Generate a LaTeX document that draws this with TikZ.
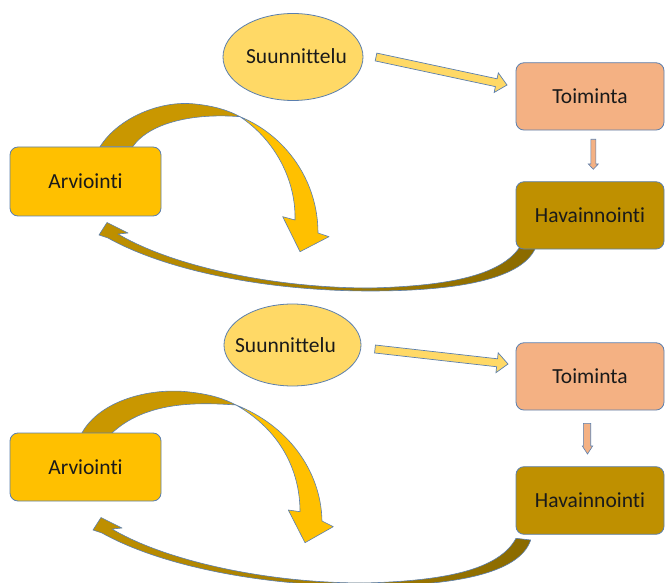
\documentclass[tikz,border=0pt]{standalone}
\usepackage{fontspec}
\setmainfont{Carlito}[Ligatures={NoCommon,NoRare,NoContextual}]
\usetikzlibrary{shapes.geometric}
\definecolor{suun}{HTML}{FFD966}
\definecolor{toim}{HTML}{F4B183}
\definecolor{hav}{HTML}{BF9000}
\definecolor{arv}{HTML}{FFC000}
\definecolor{arvdark}{HTML}{C99700}
\definecolor{edge}{HTML}{5B7FAE}
\definecolor{havdark}{HTML}{8A6A00}
\definecolor{ink}{HTML}{1A1A1A}
\begin{document}
\begin{tikzpicture}[x=1pt,y=-1pt,
  lbl/.style={font=\fontsize{21.5}{24}\selectfont, text=ink},
  box/.style={lbl, rectangle, rounded corners=8pt, draw=edge, line width=0.8pt,
    minimum width=148pt, minimum height=67.3pt, inner sep=0pt},
  oval/.style={lbl, ellipse, draw=edge, line width=0.8pt, fill=suun, inner sep=0pt},
  blockarrow/.style={draw=edge, line width=0.7pt, line join=miter},
  curvearrow/.style={draw=edge, line width=0.6pt, line join=round}]
\useasboundingbox (0,0) rectangle (665,583);
\clip (0,0) rectangle (665,583);

% ---------- curved arrows (behind boxes) ----------
% top: Arvointi -> over the top -> down
\path[curvearrow, fill=arvdark] (100,146.7) .. controls (118,118) and (160,100) .. (195,104)
  .. controls (215,106) and (230,111) .. (240,116.7)
  .. controls (195,113) and (150,122) .. (132.7,146.7) -- cycle;
\path[curvearrow, fill=arv] (240,116.7) .. controls (285,135) and (318,180) .. (318,233)
  -- (329,236.7) -- (300,251.7) -- (282.7,216.7) -- (295,220)
  .. controls (296,180) and (275,140) .. (240,116.7) -- cycle;

% top: Havainnointi -> back to Arvointi
\path[curvearrow, left color=hav, right color=havdark]
  (522,243.3) .. controls (505,275) and (450,286) .. (370,288)
  .. controls (270,288) and (170,265) .. (118,234)
  -- (128,233) -- (107,222.5) -- (99,235) -- (108,238)
  .. controls (165,270) and (265,291) .. (370,291)
  .. controls (455,291) and (525,280) .. (536.7,245) -- cycle;

% bottom: Arvointi -> over the top -> down
\path[curvearrow, fill=arvdark] (81.7,433.3) .. controls (100,400) and (150,388) .. (186.7,391.7)
  .. controls (210,394) and (225,399) .. (236,405)
  .. controls (195,402) and (145,402) .. (111.7,433.3) -- cycle;
\path[curvearrow, fill=arv] (236,405) .. controls (287,425) and (321,470) .. (322,521)
  -- (333.3,526.7) -- (305,542.7) -- (288.3,510) -- (300,511.7)
  .. controls (300,470) and (280,430) .. (236,405) -- cycle;

% bottom: Havainnointi -> back to Arvointi
\begin{scope}[shift={(-6,295)}]
\path[curvearrow, left color=hav, right color=havdark]
  (522,243.3) .. controls (505,275) and (450,286) .. (370,288)
  .. controls (270,288) and (170,265) .. (118,234)
  -- (128,233) -- (107,222.5) -- (99,235) -- (108,238)
  .. controls (165,270) and (265,291) .. (370,291)
  .. controls (455,291) and (525,280) .. (536.7,245) -- cycle;
\end{scope}

% ---------- nodes ----------
\node[oval, minimum width=140pt, minimum height=87pt] (suun1) at (293,57)
  {\makebox[0pt]{\hspace*{7pt}\raisebox{2pt}{Suunnittelu}}};
\node[box, fill=toim] (toim1) at (590,96.4) {Toiminta};
\node[box, fill=hav] (hav1) at (590,215.4) {Havainnointi};
\node[box, fill=arv, minimum width=151pt, minimum height=69pt] (arv1) at (85.5,181.5) {Arviointi};

\node[oval, minimum width=137pt, minimum height=82pt] (suun2) at (292.5,345)
  {\makebox[0pt]{Suunnittelu\hspace*{14pt}}};
\node[box, fill=toim] (toim2) at (590,376.4) {Toiminta};
\node[box, fill=hav, minimum height=67.6pt] (hav2) at (590,500.5) {Havainnointi};
\node[box, fill=arv, minimum width=151pt, minimum height=68pt] (arv2) at (85.5,467) {Arviointi};

% ---------- block arrows ----------
\path[blockarrow, fill=suun] (376.84,53.09) -- (497.08,78.79) -- (498.33,72.92) -- (507,85)
  -- (494.15,92.48) -- (495.40,86.61) -- (375.16,60.91) -- cycle;
\path[blockarrow, fill=suun] (375.45,345.03) -- (497.52,358.80) -- (498.19,352.83) -- (508,364)
  -- (495.95,372.71) -- (496.62,366.74) -- (374.55,352.97) -- cycle;

\path[blockarrow, fill=toim, line width=0.6pt] (590.8,139.3) -- (590.8,164) -- (588.3,164) -- (593.3,169.3)
  -- (598.3,164) -- (595.8,164) -- (595.8,139.3) -- cycle;
\path[blockarrow, fill=toim, line width=0.6pt] (583.3,423.3) -- (583.3,446) -- (582.3,446) -- (587.5,454)
  -- (592.7,446) -- (590.7,446) -- (590.7,423.3) -- cycle;
\end{tikzpicture}
\end{document}
